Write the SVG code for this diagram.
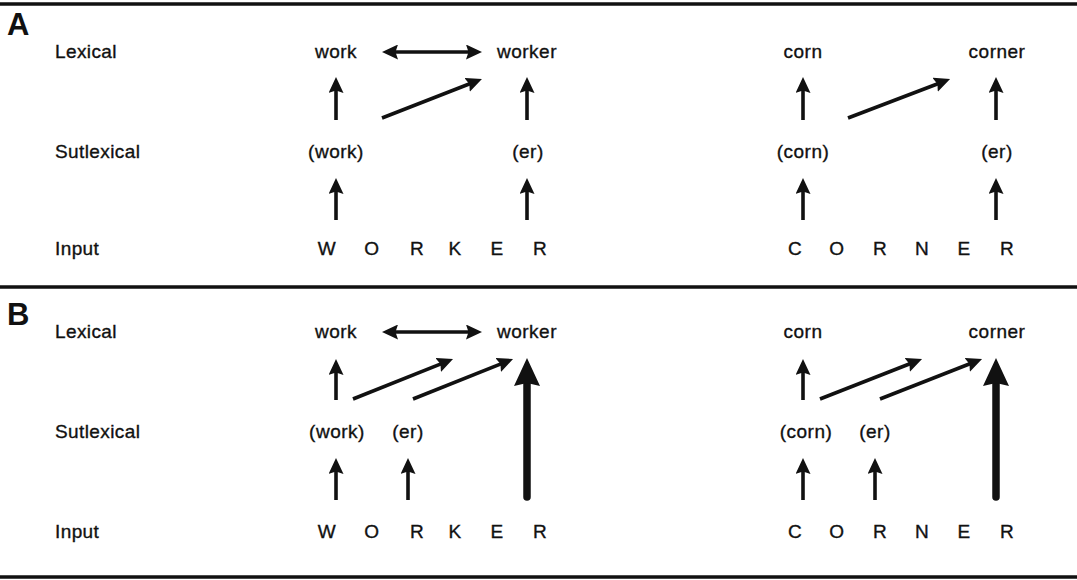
<svg xmlns="http://www.w3.org/2000/svg" width="1077" height="580" viewBox="0 0 1077 580">
  <style>
    .lbl { font-family: "Liberation Sans", Arial, sans-serif; font-size: 19px; letter-spacing: 0.4px; fill: #111; stroke: #111; stroke-width: 0.35; }
    .w { font-family: "Liberation Sans", Arial, sans-serif; font-size: 19px; letter-spacing: 0.5px; fill: #111; stroke: #111; stroke-width: 0.35; text-anchor: middle; }
    .panel { font-family: "Liberation Sans", Arial, sans-serif; font-size: 31px; font-weight: bold; fill: #111; }
    .rule { stroke: #111; stroke-width: 3.5; }
    .arr { stroke: #111; stroke-width: 3.6; fill: none; marker-end: url(#head); }
    .dbl { marker-start: url(#head); }
    .thick { stroke: #111; stroke-width: 7.5; stroke-linecap: round; fill: none; marker-end: url(#bighead); }
  </style>
  <defs>
    <marker id="head" markerUnits="userSpaceOnUse" viewBox="0 0 16 15" markerWidth="16" markerHeight="15" refX="5" refY="7.5" orient="auto-start-reverse">
      <path d="M0,0 L16,7.5 L0,15 L2.5,7.5 Z" fill="#111"/>
    </marker>
    <marker id="bighead" markerUnits="userSpaceOnUse" viewBox="0 0 28 26" markerWidth="28" markerHeight="26" refX="5" refY="13" orient="auto">
      <path d="M0,0 L28,13 L0,26 L3,13 Z" fill="#111"/>
    </marker>
  </defs>
  <rect width="1077" height="580" fill="#fff"/>

  <!-- panel rules -->
  <line class="rule" x1="0" y1="4" x2="1077" y2="4"/>
  <line class="rule" x1="0" y1="287" x2="1077" y2="287"/>
  <line class="rule" x1="0" y1="577" x2="1077" y2="577"/>

  <!-- panel A -->
  <text class="panel" x="7" y="35">A</text>
  <text class="lbl" x="55" y="58">Lexical</text>
  <text class="lbl" x="55" y="158">Sutlexical</text>
  <text class="lbl" x="55" y="255">Input</text>

  <g id="a-work"><text class="w" x="336" y="58">work</text></g>
  <g id="a-worker"><text class="w" x="527" y="58">worker</text></g>
  <g id="a-sub-work"><text class="w" x="336" y="158">(work)</text></g>
  <g id="a-sub-er"><text class="w" x="528" y="158">(er)</text></g>
  <g id="a-input-worker">
    <text class="w" x="327" y="255">W</text>
    <text class="w" x="372" y="255">O</text>
    <text class="w" x="417" y="255">R</text>
    <text class="w" x="455" y="255">K</text>
    <text class="w" x="497" y="255">E</text>
    <text class="w" x="540" y="255">R</text>
  </g>

  <g id="a-corn"><text class="w" x="803" y="58">corn</text></g>
  <g id="a-corner"><text class="w" x="997" y="58">corner</text></g>
  <g id="a-sub-corn"><text class="w" x="803" y="158">(corn)</text></g>
  <g id="a-sub-er2"><text class="w" x="997" y="158">(er)</text></g>
  <g id="a-input-corner">
    <text class="w" x="795" y="255">C</text>
    <text class="w" x="837" y="255">O</text>
    <text class="w" x="880" y="255">R</text>
    <text class="w" x="922" y="255">N</text>
    <text class="w" x="964" y="255">E</text>
    <text class="w" x="1007" y="255">R</text>
  </g>

  <!-- panel B -->
  <text class="panel" x="7" y="325">B</text>
  <text class="lbl" x="55" y="338">Lexical</text>
  <text class="lbl" x="55" y="438">Sutlexical</text>
  <text class="lbl" x="55" y="538">Input</text>

  <g id="b-work"><text class="w" x="336" y="338">work</text></g>
  <g id="b-worker"><text class="w" x="527" y="338">worker</text></g>
  <g id="b-sub-work"><text class="w" x="337" y="438">(work)</text></g>
  <g id="b-sub-er"><text class="w" x="408" y="438">(er)</text></g>
  <g id="b-input-worker">
    <text class="w" x="327" y="538">W</text>
    <text class="w" x="372" y="538">O</text>
    <text class="w" x="417" y="538">R</text>
    <text class="w" x="455" y="538">K</text>
    <text class="w" x="497" y="538">E</text>
    <text class="w" x="540" y="538">R</text>
  </g>

  <g id="b-corn"><text class="w" x="803" y="338">corn</text></g>
  <g id="b-corner"><text class="w" x="997" y="338">corner</text></g>
  <g id="b-sub-corn"><text class="w" x="806" y="438">(corn)</text></g>
  <g id="b-sub-er2"><text class="w" x="875" y="438">(er)</text></g>
  <g id="b-input-corner">
    <text class="w" x="795" y="538">C</text>
    <text class="w" x="837" y="538">O</text>
    <text class="w" x="880" y="538">R</text>
    <text class="w" x="922" y="538">N</text>
    <text class="w" x="964" y="538">E</text>
    <text class="w" x="1007" y="538">R</text>
  </g>

  <!-- connectors -->
  <g id="connectors">
    <!-- A: work / worker -->
    <line class="arr dbl" x1="393" y1="52" x2="471" y2="52"/>
    <line class="arr" x1="336" y1="120" x2="336" y2="88"/>
    <line class="arr" x1="527" y1="120" x2="527" y2="88"/>
    <line class="arr" x1="382" y1="118" x2="471.7" y2="83"/>
    <line class="arr" x1="336" y1="220" x2="336" y2="189"/>
    <line class="arr" x1="527" y1="220" x2="527" y2="189"/>
    <!-- A: corn / corner -->
    <line class="arr" x1="803" y1="120" x2="803" y2="88"/>
    <line class="arr" x1="996" y1="120" x2="996" y2="88"/>
    <line class="arr" x1="848" y1="118" x2="939.8" y2="83"/>
    <line class="arr" x1="803" y1="220" x2="803" y2="189"/>
    <line class="arr" x1="996" y1="220" x2="996" y2="189"/>

    <!-- B: work / worker -->
    <line class="arr dbl" x1="393" y1="332" x2="471" y2="332"/>
    <line class="arr" x1="336" y1="400" x2="336" y2="370"/>
    <line class="arr" x1="353" y1="399" x2="442.8" y2="363.1"/>
    <line class="arr" x1="413" y1="399" x2="502.8" y2="363.1"/>
    <line class="arr" x1="336" y1="500" x2="336" y2="469"/>
    <line class="arr" x1="408" y1="500" x2="408" y2="469"/>
    <line class="thick" x1="527" y1="497" x2="527" y2="381"/>
    <!-- B: corn / corner -->
    <line class="arr" x1="803" y1="400" x2="803" y2="370"/>
    <line class="arr" x1="820" y1="399" x2="911.8" y2="363"/>
    <line class="arr" x1="880" y1="399" x2="971.8" y2="363"/>
    <line class="arr" x1="803" y1="500" x2="803" y2="469"/>
    <line class="arr" x1="875" y1="500" x2="875" y2="469"/>
    <line class="thick" x1="996" y1="497" x2="996" y2="381"/>
  </g>
</svg>
